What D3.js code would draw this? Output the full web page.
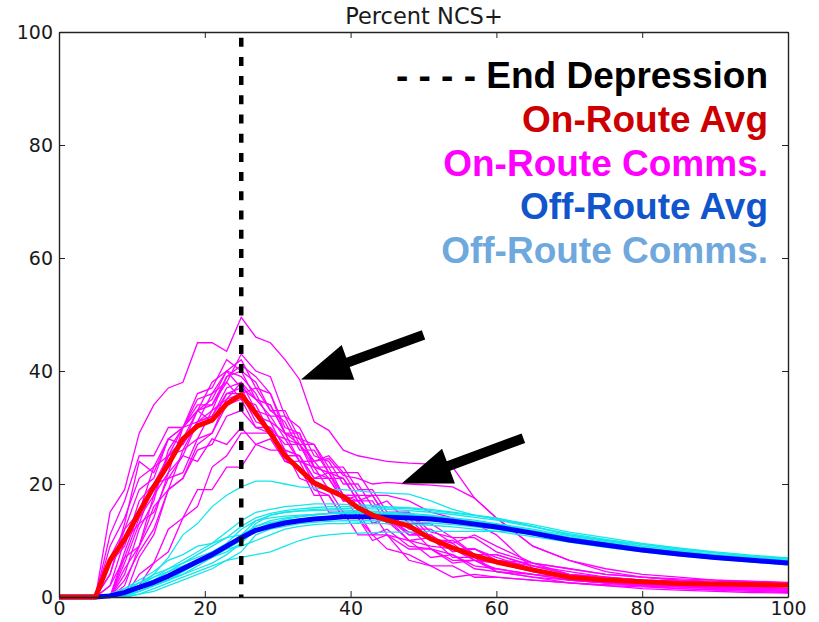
<!DOCTYPE html>
<html>
<head>
<meta charset="utf-8">
<script src="https://cdn.jsdelivr.net/npm/d3@7"></script>
<style>
	html, body { margin: 0; padding: 0; background: #fff; }
	#graph { width: 819px; height: 622px; }
	.tick text { font-family: "DejaVu Sans", sans-serif; fill: #1a1a1a; }
</style>
</head>
<body>
<div id="graph"></div>
<script>
	// shared x grid (percent of route)
	var xs = [0, 5, 7, 9, 11, 13, 15, 17, 19, 21, 23, 25,
		27, 29, 31, 33, 35, 37, 39, 41, 43, 45,
		48, 51, 54, 57, 60,
		65, 70, 75, 80, 85, 90, 95, 100];

	var onRouteAvg = [0, 0, 6.5, 10.2, 15, 19.5, 23.5, 28, 30.3, 31.3, 34.2, 35.8,
		32.5, 29, 25, 22.6, 20.2, 19, 17.8, 15.8, 14.5, 13.6,
		12.6, 10.3, 8.7, 7.3, 6.2,
		4.8, 3.5, 3.0, 2.7, 2.4, 2.3, 2.2, 2.1];

	var offRouteAvg = [0, 0, 0.2, 0.8, 1.7, 2.6, 3.7, 5, 6.3, 7.5, 9, 10.5,
		11.8, 12.5, 13.1, 13.5, 13.8, 14, 14.2, 14.2, 14.2, 14.1,
		14, 13.8, 13.4, 12.9, 12.4,
		11.3, 10.1, 9.2, 8.3, 7.6, 7, 6.5, 6];

	var onRouteComms = [
		[0, 0, 15, 19, 29, 34, 37, 38, 45, 45, 43.5, 49.5, 46, 45, 42, 38.5, 31, 29.5, 26, 25, 24.5, 24, 23.7, 23.5, 23, 17.5, 14, 9, 6.5, 5, 4, 3.5, 3, 2.7, 2.5],
		[0, 0, 0, 8, 15, 19, 25, 27, 33, 34, 39, 40, 35, 34, 29, 28, 24, 24.5, 21.5, 21, 20, 20.3, 20, 19.8, 19.5, 17.5, 14, 9, 6.5, 4.5, 3.5, 3, 2.5, 2.2, 2],
		[0, 0, 4, 13, 24, 22, 28, 30, 33, 35, 40, 42, 37, 36, 30, 29, 23, 22, 18, 17, 13, 14, 10, 9, 8.5, 6.5, 6, 4.5, 3.5, 2.8, 2.5, 2.2, 2, 1.8, 1.5],
		[0, 0, 0, 5, 9, 18, 22, 30, 33, 38, 40, 39, 36, 31, 29, 24, 23, 19, 18, 14, 15, 11, 10, 7, 7.5, 5.5, 5, 4, 3, 2.5, 2, 1.8, 1.5, 1.2, 1],
		[0, 0, 9, 14, 21, 23, 28, 27, 31, 32, 37, 38, 33, 32, 28, 27, 22, 21, 17, 18, 14, 15, 11, 11, 8, 8.5, 6.5, 5.5, 4, 3.5, 3, 2.8, 2.5, 2.5, 2.2],
		[0, 0, 0, 2, 9, 14, 22, 25, 31, 33, 39, 41, 39, 36, 29, 27, 23, 23, 18, 18, 14, 13.5, 10, 10.5, 7, 7, 4.5, 4, 3, 2.5, 2, 1.5, 1.2, 1, 0.8],
		[0, 0, 6, 9, 17, 20, 25, 28, 33, 31, 36, 37, 32, 31, 26, 25, 20, 19, 15, 15, 11, 12, 9, 8.5, 6, 6.5, 4.5, 3.5, 2.5, 2, 1.8, 1.5, 1.3, 1.2, 1],
		[0, 0, 0, 0, 7, 11, 19, 21, 27, 29, 35, 36, 31, 30, 25, 25, 21, 22, 18, 18, 14, 15, 12, 12, 9.5, 11, 9, 6, 4, 3.5, 3, 2.8, 2.5, 2.5, 2.5],
		[0, 0, 2, 10, 13, 20, 21, 25, 24, 28, 27, 30, 27, 28, 24, 24, 19, 18, 14, 14, 10, 11, 6.5, 5.5, 3.5, 4, 3.5, 3, 2.5, 2, 1.5, 1.2, 1, 0.8, 0.7],
		[0, 0, 0, 4, 12, 17, 26, 30, 36, 37, 42, 40, 38, 33, 31, 26, 26, 22, 21, 17, 17, 13, 12.5, 8.5, 7.5, 5, 4.5, 3.5, 3, 2.5, 2.2, 2, 1.8, 1.5, 1.5],
		[0, 0, 0, 0, 4, 6, 12, 14, 19, 19, 23, 23, 27, 26, 26, 21, 20, 15, 15, 11, 11, 8.5, 7.5, 5.5, 5.5, 3.5, 3.5, 3, 2.5, 2.2, 2, 1.8, 1.6, 1.4, 1.2],
		[0, 0, 7, 12, 19, 21, 28, 30, 34, 34, 38, 35, 34, 29, 28, 24, 24, 21, 21, 17, 18, 14, 15, 11.5, 10.5, 7.5, 7.5, 5.5, 4, 3, 2.5, 2, 1.8, 1.6, 1.5],
		[0, 0, 0, 7, 14, 18, 25, 26, 31, 32, 36, 36, 37, 33, 33, 28, 27, 23, 23, 19, 19, 15, 15, 10.5, 9.5, 6.5, 6.5, 4.5, 3.5, 3, 2.7, 2.5, 2.5, 2.3, 2.2],
		[0, 0, 4, 12, 15, 23, 25, 30, 31, 36, 38, 43, 40, 39, 32, 30, 25, 24, 20, 20, 16, 17, 13, 13, 10.5, 10.5, 8, 6, 5, 4, 3.5, 3, 2.8, 2.6, 2.5],
		[0, 0, 0, 3, 8, 12, 19, 21, 26, 27, 32, 33, 30, 30, 27, 27, 24, 25, 22, 22, 18, 18, 17, 15, 14, 13, 11, 5, 3, 2.5, 2, 1.8, 1.5, 1.3, 1.2],
		[0, 0, 11, 17, 25, 25, 30, 30, 35, 36, 40, 37, 35, 32, 32, 27, 27, 22, 22, 18, 18, 14, 14, 10, 10, 7.5, 7.5, 5.5, 4.5, 3.5, 3, 2.5, 2, 1.8, 1.5],
		[0, 0, 0, 6, 13, 15, 21, 22, 28, 29, 34, 35, 30, 29, 24, 23, 18, 18, 14, 14, 11, 11, 8.5, 8.5, 6.5, 6.5, 5, 4, 3.5, 3, 2.8, 2.5, 2.3, 2, 2],
		[0, 0, 2, 7, 9, 16, 19, 26, 28, 33, 35, 38, 35, 34, 29, 29, 23, 22, 17, 17, 13, 14, 11.5, 10.5, 8.5, 8.5, 6.5, 6, 5, 4, 3.5, 3.2, 3, 2.8, 2.6],
		[0, 0, 0, 0, 2, 6, 8, 14, 16, 23, 25, 29, 29, 29, 26, 25, 21, 21, 17, 17, 14, 14, 11, 11, 8.5, 8.5, 7, 5, 3.5, 2.8, 2.3, 2, 1.8, 1.6, 1.4]
	];

	var offRouteComms = [
		[0, 0, 0, 0.5, 2, 4, 7, 11, 13, 16, 18, 19.5, 20.5, 20.5, 20, 19.5, 19.3, 19, 19, 18.8, 18.5, 18.4, 18.2, 17, 15.5, 14.5, 13.8, 12.5, 11, 10, 9, 8.3, 7.5, 7, 6.5],
		[0, 0, 0, 0, 0.5, 1.5, 2.5, 3.5, 4.5, 5.5, 6.5, 7, 7.5, 8, 9, 10, 10.7, 11, 11.2, 11.3, 11.4, 11.5, 11.5, 11.6, 11.6, 11.6, 11.6, 11.5, 10.5, 9.5, 8.5, 7.8, 7, 6.5, 6],
		[0, 0, 0.5, 1.5, 3, 4.5, 6.5, 7.5, 9, 9.5, 11.5, 13.5, 15, 15.5, 16, 16.2, 16.5, 16.5, 16.4, 16.3, 16.2, 16, 15.8, 15.5, 15, 14.5, 14, 12.5, 11, 10, 9.3, 8.5, 7.8, 7.2, 6.8],
		[0, 0, 0, 0.5, 1, 2, 3, 4, 5.5, 7, 8.5, 10, 12, 13, 13.8, 14.2, 14.5, 14.7, 14.8, 14.8, 14.7, 14.6, 14.4, 14.2, 13.8, 13.3, 12.8, 11.7, 10.5, 9.5, 8.7, 8, 7.3, 6.8, 6.3],
		[0, 0, 0.3, 1, 2, 3.5, 5, 6.5, 8, 9.5, 10.5, 11, 13.5, 14.5, 15, 15.2, 15.3, 15.4, 15.4, 15.3, 15.2, 15, 14.8, 14.5, 14, 13.6, 13, 12, 10.8, 9.8, 9, 8.2, 7.5, 7, 6.5],
		[0, 0, 0, 0, 0.5, 1, 2, 3, 4, 5, 6.5, 8, 11, 12, 12.5, 13, 13.2, 13.4, 13.5, 13.5, 13.5, 13.4, 13.3, 13.1, 12.8, 12.4, 12, 11, 10, 9, 8.2, 7.5, 6.8, 6.2, 5.7],
		[0, 0, 0, 1, 2.5, 4, 5, 6, 7, 8, 9.5, 12, 13.5, 14, 14.3, 14.5, 14.6, 14.8, 15, 15, 14.9, 14.8, 14.6, 14.3, 13.9, 13.4, 12.9, 11.8, 10.6, 9.6, 8.8, 8, 7.3, 6.8, 6.3],
		[0, 0, 0, 0.3, 1, 2, 3, 4.5, 6, 7, 8, 9.5, 12.5, 13.5, 14, 14.3, 14.6, 14.8, 14.9, 15, 14.9, 14.7, 14.5, 14.2, 13.7, 13.1, 12.5, 11.4, 10.2, 9.3, 8.5, 7.8, 7.1, 6.6, 6.1],
		[0, 0, 0.5, 1.5, 2.5, 3.5, 4.5, 5.5, 6.5, 7.5, 8.5, 9, 10, 11, 12, 12.5, 12.8, 13, 13, 13.1, 13, 13, 12.9, 12.7, 12.4, 12, 11.6, 10.7, 9.7, 8.8, 8, 7.3, 6.7, 6.2, 5.8],
		[0, 0, 0, 0.5, 1.5, 3, 4.5, 6, 7.5, 9, 10.5, 12.5, 14, 14.8, 15.3, 15.6, 15.8, 16, 16, 16, 15.9, 15.8, 15.6, 15.3, 14.9, 14.4, 13.9, 12.8, 11.5, 10.5, 9.5, 8.7, 8, 7.4, 6.9],
		[0, 0, 0, 0, 1, 2, 3, 4, 5, 6, 7.5, 9.5, 12, 13, 13.5, 13.8, 14, 14.2, 14.3, 14.3, 14.3, 14.2, 14, 13.8, 13.4, 12.9, 12.4, 11.3, 10.1, 9.2, 8.4, 7.7, 7, 6.5, 6],
		[0, 0, 0.3, 1, 2, 3, 4, 5, 6, 7.5, 9, 11, 12.5, 13.2, 13.5, 13.7, 13.8, 13.9, 14, 14, 14, 13.9, 13.8, 13.6, 13.2, 12.7, 12.2, 11.1, 9.9, 9, 8.2, 7.5, 6.9, 6.4, 5.9],
		[0, 0, 0, 0.5, 1.5, 2.5, 3.5, 5, 6.5, 8, 9, 10, 13, 14.5, 15, 15.3, 15.5, 15.6, 15.7, 15.7, 15.6, 15.5, 15.3, 15, 14.6, 14.1, 13.6, 12.4, 11.2, 10.2, 9.3, 8.5, 7.8, 7.2, 6.7]
	];

	var endDepression = 25;
	var xTicks = [0, 20, 40, 60, 80, 100];
	var yTicks = [0, 20, 40, 60, 80, 100];

	var legendLabels = ["- - - - End Depression", "On-Route Avg", "On-Route Comms.", "Off-Route Avg", "Off-Route Comms."];
	var legendColors = ["#000000", "#cc0000", "#ff00ff", "#1155cc", "#6fa8dc"];

	// arrows in data units: tail -> tip
	var arrows = [
		{x1: 50.0, y1: 46.4, x2: 33.2, y2: 38.5},
		{x1: 63.7, y1: 28.1, x2: 47.0, y2: 20.1}
	];

	var config = {
		width: 819,
		height: 622,
		margin: {left: 59, right: 31, top: 32, bottom: 25}
	};

	var graphwidth = config.width - config.margin.left - config.margin.right;
	var graphheight = config.height - config.margin.top - config.margin.bottom;

	var svg = d3.select("#graph").append("svg")
		.attr("width", config.width)
		.attr("height", config.height);

	var g = svg.append("g")
		.attr("transform", `translate(${config.margin.left},${config.margin.top})`);

	var xScale = d3.scaleLinear().domain([0, 100]).range([0, graphwidth]);
	var yScale = d3.scaleLinear().domain([0, 100]).range([graphheight, 0]);

	var drawline = d3.line()
		.x((d, i) => xScale(xs[i]))
		.y(d => yScale(d));

	var lines = g.append("g");

	lines.selectAll("path.oncomm")
		.data(onRouteComms)
		.join("path")
		.attr("class", "oncomm")
		.attr("d", drawline)
		.attr("fill", "none")
		.attr("stroke", "#ff00ff")
		.attr("stroke-width", 1.3);

	lines.selectAll("path.offcomm")
		.data(offRouteComms)
		.join("path")
		.attr("class", "offcomm")
		.attr("d", drawline)
		.attr("fill", "none")
		.attr("stroke", "#14e6ea")
		.attr("stroke-width", 1.3);

	lines.append("path")
		.attr("d", drawline(offRouteAvg))
		.attr("fill", "none")
		.attr("stroke", "#0000ff")
		.attr("stroke-width", 5)
		.attr("stroke-linejoin", "round");

	lines.append("path")
		.attr("d", drawline(onRouteAvg))
		.attr("fill", "none")
		.attr("stroke", "#ff0000")
		.attr("stroke-width", 5)
		.attr("stroke-linejoin", "round");

	// end of depression marker
	g.append("line")
		.attr("x1", xScale(endDepression))
		.attr("x2", xScale(endDepression))
		.attr("y1", yScale(100))
		.attr("y2", yScale(0))
		.attr("stroke", "#000")
		.attr("stroke-width", 4.5)
		.attr("stroke-dasharray", "9 10.2")
		.attr("stroke-dashoffset", 13.5);

	// axes, ticks pointing inward on all four sides
	var axisStyle = function(sel){
		sel.select(".domain").attr("stroke", "#222").attr("stroke-width", 1.4);
		sel.selectAll(".tick line").attr("stroke", "#222").attr("stroke-width", 1);
	};

	g.append("g")
		.attr("transform", `translate(0,${graphheight})`)
		.call(d3.axisBottom(xScale).tickValues(xTicks).tickSize(-6).tickSizeOuter(0).tickPadding(5))
		.call(axisStyle);

	g.append("g")
		.call(d3.axisTop(xScale).tickValues(xTicks).tickSize(-6).tickSizeOuter(0).tickFormat(""))
		.call(axisStyle);

	g.append("g")
		.call(d3.axisLeft(yScale).tickValues(yTicks).tickSize(-6).tickSizeOuter(0).tickPadding(6))
		.call(axisStyle);

	g.append("g")
		.attr("transform", `translate(${graphwidth},0)`)
		.call(d3.axisRight(yScale).tickValues(yTicks).tickSize(-6).tickSizeOuter(0).tickFormat(""))
		.call(axisStyle);

	g.selectAll(".tick text").style("font-size", "19px");

	// title
	svg.append("text")
		.attr("x", config.margin.left + graphwidth / 2 + 0.5)
		.attr("y", 24)
		.attr("text-anchor", "middle")
		.style("font-family", "DejaVu Sans, sans-serif")
		.style("font-size", "22.5px")
		.style("fill", "#1a1a1a")
		.text("Percent NCS+");

	// arrows
	var headLength = 50, headWidth = 37, shaftWidth = 10;
	g.selectAll("path.arrow")
		.data(arrows)
		.join("path")
		.attr("class", "arrow")
		.attr("fill", "#000")
		.attr("d", function(a){
			let tx = xScale(a.x1), ty = yScale(a.y1);
			let hx = xScale(a.x2), hy = yScale(a.y2);
			let len = Math.hypot(hx - tx, hy - ty);
			let ux = (hx - tx) / len, uy = (hy - ty) / len;
			let nx = -uy, ny = ux;
			let bx = hx - ux * headLength, by = hy - uy * headLength;
			let p = [
				[tx + nx * shaftWidth / 2, ty + ny * shaftWidth / 2],
				[bx + nx * shaftWidth / 2, by + ny * shaftWidth / 2],
				[bx + nx * headWidth / 2, by + ny * headWidth / 2],
				[hx, hy],
				[bx - nx * headWidth / 2, by - ny * headWidth / 2],
				[bx - nx * shaftWidth / 2, by - ny * shaftWidth / 2],
				[tx - nx * shaftWidth / 2, ty - ny * shaftWidth / 2]
			];
			return "M" + p.map(q => q.join(",")).join("L") + "Z";
		});

	// legend as coloured text, right aligned
	svg.append("g").selectAll("text")
		.data(legendLabels)
		.join("text")
		.attr("x", 768)
		.attr("y", (d, i) => 88 + i * 43.8)
		.attr("text-anchor", "end")
		.style("font-family", "Liberation Sans, Arial, sans-serif")
		.style("font-weight", "bold")
		.style("font-size", "37px")
		.style("fill", (d, i) => legendColors[i])
		.text(d => d);
</script>
</body>
</html>
